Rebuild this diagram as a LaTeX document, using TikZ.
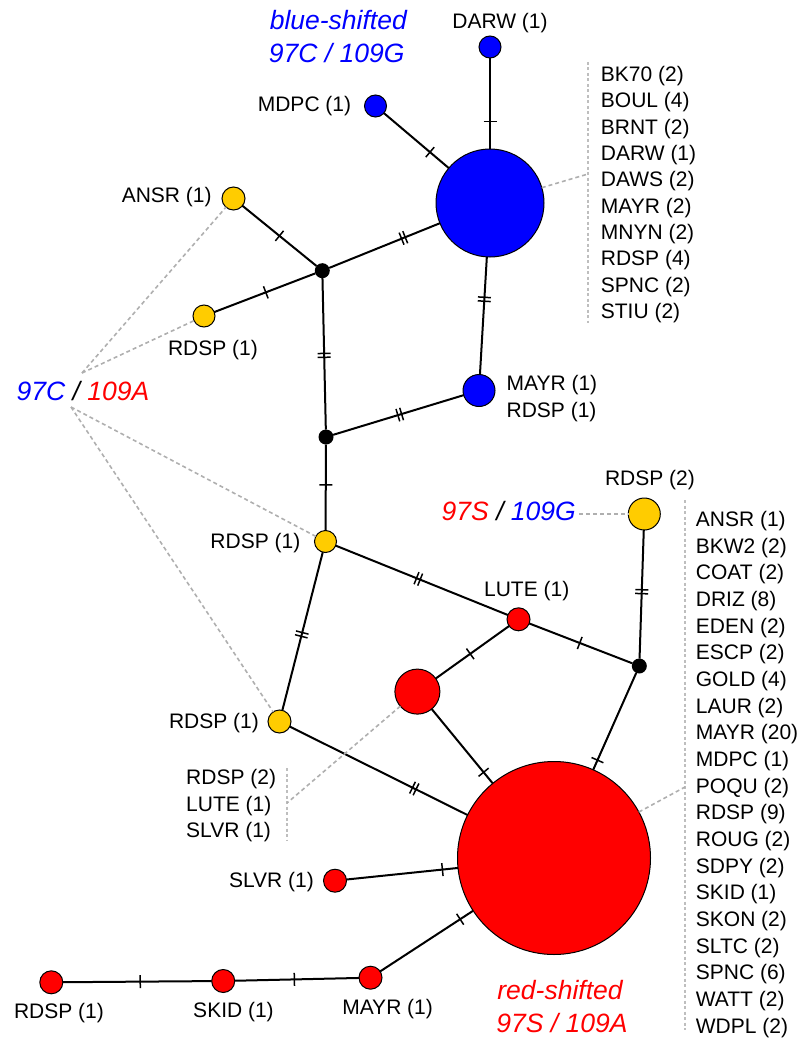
\documentclass[tikz,border=0pt]{standalone}
\usepackage{fontspec}
\setmainfont{Liberation Sans}
\definecolor{hblue}{RGB}{0,0,255}
\definecolor{hred}{RGB}{255,0,0}
\definecolor{hyel}{RGB}{255,204,0}
\definecolor{cgrey}{RGB}{175,175,175}
\definecolor{lgrey}{RGB}{190,190,190}
\newcommand\tk{\rule{1.5pt}{13pt}}
\newcommand\dtk{\rule{1.5pt}{13pt}\hspace{2.4pt}\rule{1.5pt}{13pt}}
\begin{document}
\begin{tikzpicture}[x=1pt,y=-1pt,
  hap/.style={circle,draw=black,line width=1pt,inner sep=0pt,outer sep=0pt,minimum size=#1},
  hb/.style={hap=#1,fill=hblue},
  hr/.style={hap=#1,fill=hred},
  hy/.style={hap=#1,fill=hyel},
  mv/.style={circle,fill=black,inner sep=0pt,outer sep=0pt,minimum size=15pt},
  edge/.style={line width=2pt,draw=black},
  tick/.style={sloped,allow upside down,inner sep=0pt,outer sep=0pt},
  conn/.style={draw=cgrey,line width=1.6pt,dash pattern=on 4pt off 3pt},
  listline/.style={draw=lgrey,line width=1.3pt,dash pattern=on 3pt off 2.5pt},
  lab/.style={font=\fontsize{21}{26.5}\selectfont,inner sep=0pt,anchor=base},
  lst/.style={font=\fontsize{21}{26.5}\selectfont,inner sep=0pt,anchor=base west},
  big/.style={font=\fontsize{26.5}{33}\selectfont\itshape,inner sep=0pt,anchor=base},
]
\useasboundingbox (0,0) rectangle (801,1038);

% haplotypes, blue group
\node[hb=22pt]  (dw)  at (490,47)    {};
\node[hb=22pt]  (md)  at (375.5,106) {};
\node[hb=108pt] (bb)  at (490,203)   {};
\node[hb=32pt]  (mb)  at (479,390.5) {};
% haplotypes, intermediate (yellow) group
\node[hy=23pt]  (an)  at (233.5,198.5) {};
\node[hy=22pt]  (ry1) at (204,316)     {};
\node[hy=22pt]  (ym)  at (325.5,541.5) {};
\node[hy=23pt]  (yl)  at (279.5,721.5) {};
\node[hy=32pt]  (y2)  at (644.3,514)   {};
% haplotypes, red group
\node[hr=23pt]  (lu)  at (518.5,619.3) {};
\node[hr=45pt]  (rm)  at (417.4,691.6) {};
\node[hr=193pt] (br)  at (554,858)     {};
\node[hr=23pt]  (sv)  at (335,880.7)   {};
\node[hr=23pt]  (rb)  at (51.3,982.3)  {};
\node[hr=23pt]  (sk)  at (223.2,981)   {};
\node[hr=23pt]  (mr)  at (370.5,977.7) {};
% median vectors
\node[mv] (k1) at (322.3,270.7) {};
\node[mv] (k2) at (326,437)     {};
\node[mv] (k3) at (639.3,666)   {};

% mutational steps
\draw[edge] (dw)  -- node[tick,pos=.70]{\tk}  (bb);
\draw[edge] (md)  -- node[tick,pos=.71]{\tk}  (bb);
\draw[edge] (k1)  -- node[tick,pos=.67]{\dtk} (bb);
\draw[edge] (an)  -- node[tick,pos=.50]{\tk}  (k1);
\draw[edge] (ry1) -- node[tick,pos=.51]{\tk}  (k1);
\draw[edge] (bb)  -- node[tick,pos=.36]{\dtk} (mb);
\draw[edge] (k1)  -- node[tick,pos=.51]{\dtk} (k2);
\draw[edge] (k2)  -- node[tick,pos=.51]{\dtk} (mb);
\draw[edge] (k2)  -- node[tick,pos=.47]{\tk}  (ym);
\draw[edge] (ym)  -- node[tick,pos=.48]{\dtk} (lu);
\draw[edge] (ym)  -- node[tick,pos=.52]{\dtk} (yl);
\draw[edge] (lu)  -- node[tick,pos=.49]{\tk}  (k3);
\draw[edge] (lu)  -- node[tick,pos=.53]{\tk}  (rm);
\draw[edge] (y2)  -- node[tick,pos=.48]{\dtk} (k3);
\draw[edge] (k3)  -- node[tick,pos=.90]{\tk}  (br);
\draw[edge] (rm)  -- node[tick,pos=.85]{\tk}  (br);
\draw[edge] (yl)  -- node[tick,pos=.70]{\dtk} (br);
\draw[edge] (sv)  -- node[tick,pos=.86]{\tk}  (br);
\draw[edge] (mr)  -- node[tick,pos=.86]{\tk}  (br);
\draw[edge] (sk)  -- node[tick,pos=.48]{\tk}  (mr);
\draw[edge] (rb)  -- node[tick,pos=.52]{\tk}  (sk);

% haplotype labels
\node[lab] (ldw)  at (500,28.5)   {DARW (1)};
\node[lab] (lmd)  at (304.5,112)  {MDPC (1)};
\node[lab] (lan)  at (166.7,202.7){ANSR (1)};
\node[lab] (lry1) at (213,355)    {RDSP (1)};
\node[lst] (lmb1) at (506.4,390.5){MAYR (1)};
\node[lst] (lmb2) at (506.4,417)  {RDSP (1)};
\node[lab] (lym)  at (255.4,548.3){RDSP (1)};
\node[lab] (llu)  at (526.7,596)  {LUTE (1)};
\node[lab] (ly2)  at (650,485)    {RDSP (2)};
\node[lab] (lyl)  at (214,728.3)  {RDSP (1)};
\node[lab] (lsv)  at (271.5,887.7){SLVR (1)};
\node[lab] (lrb)  at (59,1018.3)  {RDSP (1)};
\node[lab] (lsk)  at (233.5,1017.3){SKID (1)};
\node[lab] (lmr)  at (387.6,1014) {MAYR (1)};

% sample lists
\draw[listline] (588,62) -- (588,323);
\foreach \t [count=\i from 0] in {BK70 (2),BOUL (4),BRNT (2),DARW (1),DAWS (2),MAYR (2),MNYN (2),RDSP (4),SPNC (2),STIU (2)}
  \node[lst] (ub\i) at (600.7,81.7+26.3*\i) {\t};
\draw[listline] (685,500) -- (685,1030);
\foreach \t [count=\i from 0] in {ANSR (1),BKW2 (2),COAT (2),DRIZ (8),EDEN (2),ESCP (2),GOLD (4),LAUR (2),MAYR (20),MDPC (1),POQU (2),RDSP (9),ROUG (2),SDPY (2),SKID (1),SKON (2),SLTC (2),SPNC (6),WATT (2),WDPL (2)}
  \node[lst] (lr\i) at (695.7,526.5+26.66*\i) {\t};
\draw[listline] (287,768) -- (287,840);
\node[lst] (sm0) at (186,784)   {RDSP (2)};
\node[lst] (sm1) at (186,811)   {LUTE (1)};
\node[lst] (sm2) at (186,837.7) {SLVR (1)};

% group captions
\node[big,text=hblue] (cb1) at (338.3,29.3) {blue-shifted};
\node[big,text=hblue] (cb2) at (336.7,62.7) {97C / 109G};
\node[big] (cm1) at (83,400) {\textcolor{hblue}{97C} / \textcolor{hred}{109A}};
\node[big,anchor=base east] (cm2) at (576,520) {\textcolor{hred}{97S} / \textcolor{hblue}{109G}};
\node[big,text=hred] (cr1) at (560,999.3)  {red-shifted};
\node[big,text=hred] (cr2) at (562,1032.7) {97S / 109A};

% dashed pointers
\coordinate (apU) at (82,373);
\coordinate (apL) at (71,407);
\coordinate (pU)  at (588,174);
\coordinate (pR)  at (685,787);
\coordinate (pS)  at (287,803);
\draw[conn] (apU) -- (an);
\draw[conn] (apU) -- (ry1);
\draw[conn] (apL) -- (ym);
\draw[conn] (apL) -- (yl);
\draw[conn] (bb) -- (pU);
\draw[conn] (br) -- (pR);
\draw[conn] (rm) -- (pS);
\draw[conn] ([xshift=3pt]cm2.east |- y2) -- (y2);
\end{tikzpicture}
\end{document}
